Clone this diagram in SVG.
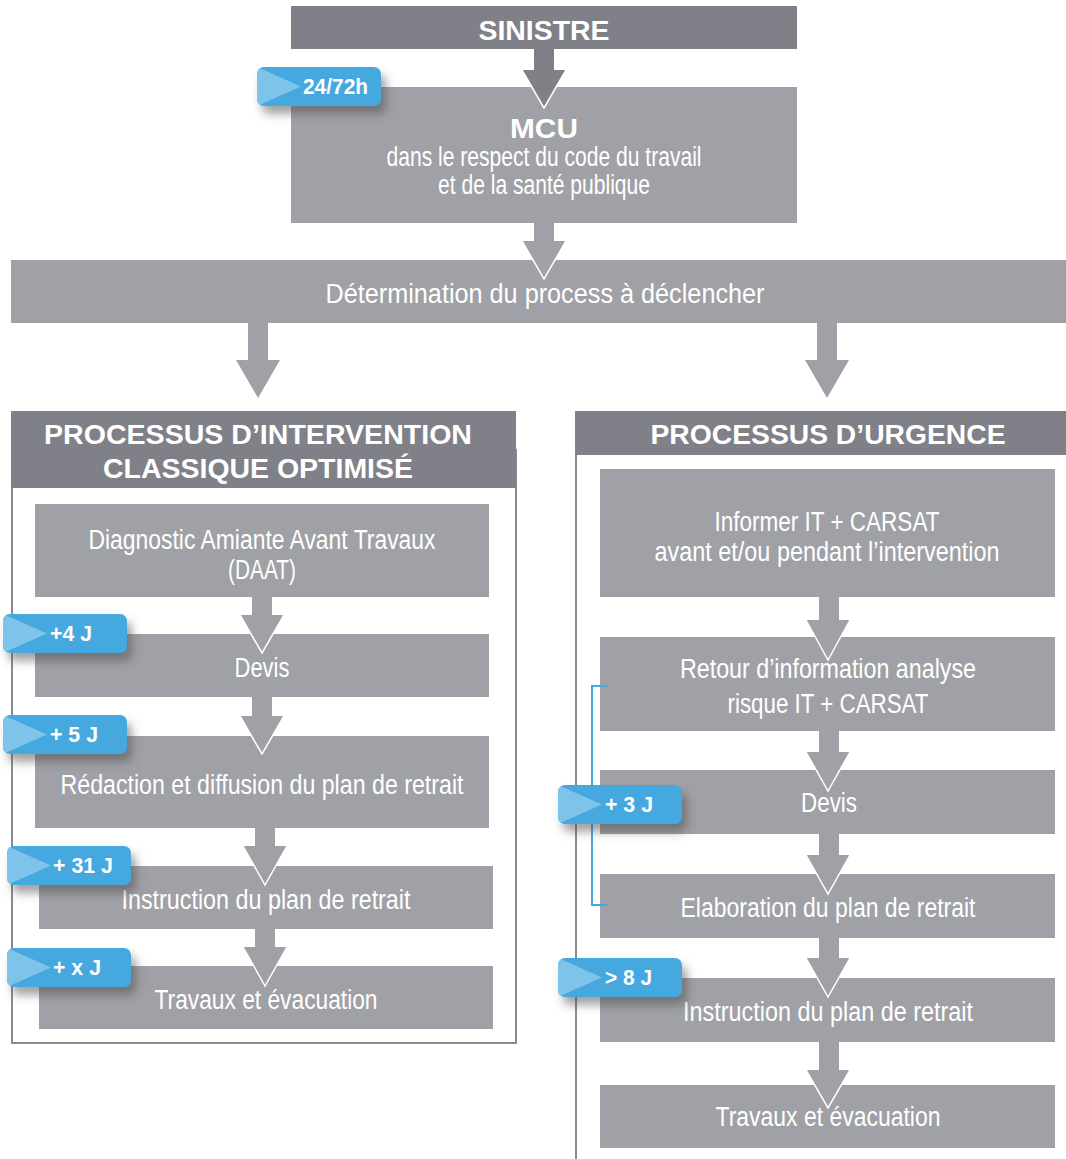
<svg xmlns="http://www.w3.org/2000/svg" xmlns:xlink="http://www.w3.org/1999/xlink" width="1066" height="1159" viewBox="0 0 1066 1159">
<style>
.hd{fill:#808188}
.bx{fill:#a0a1a6}
.ar{fill:#a0a1a6}
.ard{fill:#808188}
.ol{fill:none;stroke:#fff;stroke-width:1.5}
.t{font-family:"Liberation Sans",Arial,sans-serif;fill:#fff;text-anchor:middle;font-size:27px}
.tb{font-family:"Liberation Sans",Arial,sans-serif;fill:#fff;text-anchor:middle;font-weight:bold;font-size:27px}
.bt{font-family:"Liberation Sans",Arial,sans-serif;fill:#fff;font-weight:bold;font-size:22px}
.frame{fill:none;stroke:#8a8b90;stroke-width:2}
.br{fill:none;stroke:#45a8df;stroke-width:2}
</style>
<defs>
<filter id="sh" x="-20%" y="-30%" width="150%" height="190%">
<feDropShadow dx="5" dy="8" stdDeviation="5" flood-color="#444" flood-opacity="0.5"/>
</filter>
<clipPath id="bc"><rect x="0" y="0" width="124" height="39" rx="7"/></clipPath>
<g id="badge">
<rect x="0" y="0" width="124" height="39" rx="7" fill="#45a8df" filter="url(#sh)"/>
<polygon points="0,0 44,19.5 0,39" fill="#7ec3ea" clip-path="url(#bc)"/>
</g>
</defs>

<g id="frames">
<rect class="frame" x="12" y="450" width="504" height="593"/>
<line class="frame" x1="576" y1="450" x2="576" y2="1159"/>
</g>

<g id="sinistre">
<rect class="hd" x="291" y="6" width="506" height="43"/>
<text class="tb" x="544" y="40" font-size="28" textLength="131" lengthAdjust="spacingAndGlyphs">SINISTRE</text>
</g>
<g id="mcu">
<rect class="bx" x="291" y="87" width="506" height="136"/>
<text class="tb" x="544" y="138" font-size="26" textLength="68" lengthAdjust="spacingAndGlyphs">MCU</text>
<text class="t" x="544" y="166" font-size="21" textLength="315" lengthAdjust="spacingAndGlyphs">dans le respect du code du travail</text>
<text class="t" x="544" y="194" font-size="21" textLength="212" lengthAdjust="spacingAndGlyphs">et de la santé publique</text>
</g>
<g id="determination">
<rect class="bx" x="11" y="260" width="1055" height="63"/>
<text class="t" x="545" y="303" font-size="28" textLength="439" lengthAdjust="spacingAndGlyphs">Détermination du process à déclencher</text>
</g>

<g id="hdr-classique">
<rect class="hd" x="11" y="411" width="505" height="77"/>
<text class="tb" x="258" y="444" textLength="428" lengthAdjust="spacingAndGlyphs">PROCESSUS D’INTERVENTION</text>
<text class="tb" x="258" y="478" textLength="310" lengthAdjust="spacingAndGlyphs">CLASSIQUE OPTIMISÉ</text>
</g>
<g id="hdr-urgence">
<rect class="hd" x="575" y="411" width="491" height="44"/>
<text class="tb" x="828" y="444" textLength="355" lengthAdjust="spacingAndGlyphs">PROCESSUS D’URGENCE</text>
</g>

<g id="l-daat">
<rect class="bx" x="35" y="504" width="454" height="93"/>
<text class="t" x="262" y="549" textLength="347" lengthAdjust="spacingAndGlyphs">Diagnostic Amiante Avant Travaux</text>
<text class="t" x="262" y="579" textLength="68" lengthAdjust="spacingAndGlyphs">(DAAT)</text>
</g>
<g id="l-devis">
<rect class="bx" x="35" y="634" width="454" height="63"/>
<text class="t" x="262" y="677" textLength="55" lengthAdjust="spacingAndGlyphs">Devis</text>
</g>
<g id="l-redaction">
<rect class="bx" x="35" y="736" width="454" height="92"/>
<text class="t" x="262" y="794" textLength="403" lengthAdjust="spacingAndGlyphs">Rédaction et diffusion du plan de retrait</text>
</g>
<g id="l-instruction">
<rect class="bx" x="39" y="866" width="454" height="63"/>
<text class="t" x="266" y="909" textLength="289" lengthAdjust="spacingAndGlyphs">Instruction du plan de retrait</text>
</g>
<g id="l-travaux">
<rect class="bx" x="39" y="966" width="454" height="63"/>
<text class="t" x="266" y="1009" textLength="223" lengthAdjust="spacingAndGlyphs">Travaux et évacuation</text>
</g>

<g id="r-informer">
<rect class="bx" x="600" y="469" width="455" height="128"/>
<text class="t" x="827" y="531" textLength="225" lengthAdjust="spacingAndGlyphs">Informer IT + CARSAT</text>
<text class="t" x="827" y="561" textLength="345" lengthAdjust="spacingAndGlyphs">avant et/ou pendant l’intervention</text>
</g>
<g id="r-retour">
<rect class="bx" x="600" y="637" width="455" height="94"/>
<text class="t" x="828" y="678" textLength="296" lengthAdjust="spacingAndGlyphs">Retour d’information analyse</text>
<text class="t" x="828" y="713" textLength="201" lengthAdjust="spacingAndGlyphs">risque IT + CARSAT</text>
</g>
<g id="r-devis">
<rect class="bx" x="600" y="770" width="455" height="64"/>
<text class="t" x="829" y="812" textLength="56" lengthAdjust="spacingAndGlyphs">Devis</text>
</g>
<g id="r-elaboration">
<rect class="bx" x="600" y="874" width="455" height="64"/>
<text class="t" x="828" y="917" textLength="295" lengthAdjust="spacingAndGlyphs">Elaboration du plan de retrait</text>
</g>
<g id="r-instruction">
<rect class="bx" x="600" y="978" width="455" height="64"/>
<text class="t" x="828" y="1021" textLength="290" lengthAdjust="spacingAndGlyphs">Instruction du plan de retrait</text>
</g>
<g id="r-travaux">
<rect class="bx" x="600" y="1085" width="455" height="63"/>
<text class="t" x="828" y="1126" textLength="225" lengthAdjust="spacingAndGlyphs">Travaux et évacuation</text>
</g>

<g id="connectors">
<path class="ard" d="M534,49 H554 V70 H566 L544,108 L522,70 H534 Z"/>
<path class="ol" d="M522,70 L544,108 L566,70"/>
<path class="ar" d="M534,223 H554 V241 H566 L544,279 L522,241 H534 Z"/>
<path class="ol" d="M522,241 L544,279 L566,241"/>
<path class="ar" d="M248,323 H268 V360 H280 L258,398 L236,360 H248 Z"/>
<path class="ar" d="M817,323 H837 V360 H849 L827,398 L805,360 H817 Z"/>

<path class="ar" d="M252,597 H272 V615 H284 L262,653 L240,615 H252 Z"/>
<path class="ol" d="M240,615 L262,653 L284,615"/>
<path class="ar" d="M252,697 H272 V716 H284 L262,754 L240,716 H252 Z"/>
<path class="ol" d="M240,716 L262,754 L284,716"/>
<path class="ar" d="M255,828 H275 V846 H287 L265,885 L243,846 H255 Z"/>
<path class="ol" d="M243,846 L265,885 L287,846"/>
<path class="ar" d="M255,929 H275 V947 H287 L265,986 L243,947 H255 Z"/>
<path class="ol" d="M243,947 L265,986 L287,947"/>

<path class="ar" d="M819,597 H839 V620 H850 L828,660 L806,620 H819 Z"/>
<path class="ol" d="M806,620 L828,660 L850,620"/>
<path class="ar" d="M819,731 H839 V752 H850 L828,791 L806,752 H819 Z"/>
<path class="ol" d="M806,752 L828,791 L850,752"/>
<path class="ar" d="M819,834 H839 V855 H850 L828,894 L806,855 H819 Z"/>
<path class="ol" d="M806,855 L828,894 L850,855"/>
<path class="ar" d="M819,938 H839 V958 H850 L828,997 L806,958 H819 Z"/>
<path class="ol" d="M806,958 L828,997 L850,958"/>
<path class="ar" d="M819,1042 H839 V1070 H850 L828,1108 L806,1070 H819 Z"/>
<path class="ol" d="M806,1070 L828,1108 L850,1070"/>

<path class="br" d="M607,686 H592 V905 H607"/>
</g>

<g id="badge-2472">
<use xlink:href="#badge" x="257" y="67"/>
<text class="bt" x="303" y="94" textLength="65" lengthAdjust="spacingAndGlyphs">24/72h</text>
</g>
<g id="badge-4j">
<use xlink:href="#badge" x="3" y="614"/>
<text class="bt" x="50" y="641" textLength="42" lengthAdjust="spacingAndGlyphs">+4 J</text>
</g>
<g id="badge-5j">
<use xlink:href="#badge" x="3" y="715"/>
<text class="bt" x="50" y="742" textLength="48" lengthAdjust="spacingAndGlyphs">+ 5 J</text>
</g>
<g id="badge-31j">
<use xlink:href="#badge" x="7" y="846"/>
<text class="bt" x="53" y="873" textLength="60" lengthAdjust="spacingAndGlyphs">+ 31 J</text>
</g>
<g id="badge-xj">
<use xlink:href="#badge" x="7" y="948"/>
<text class="bt" x="53" y="975" textLength="48" lengthAdjust="spacingAndGlyphs">+ x J</text>
</g>
<g id="badge-3j">
<use xlink:href="#badge" x="558" y="785"/>
<text class="bt" x="605" y="812" textLength="48" lengthAdjust="spacingAndGlyphs">+ 3 J</text>
</g>
<g id="badge-8j">
<use xlink:href="#badge" x="558" y="958"/>
<text class="bt" x="605" y="985" textLength="47" lengthAdjust="spacingAndGlyphs">&gt; 8 J</text>
</g>
</svg>
